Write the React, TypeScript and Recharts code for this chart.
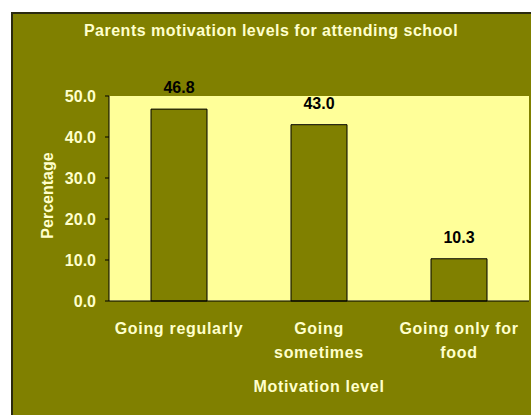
import React from "react";
import { BarChart, Bar, XAxis, YAxis, CartesianGrid, LabelList } from "recharts";

const categories = ["Going regularly", "Going sometimes", "Going only for food"];
const values = [46.8, 43.0, 10.3];
const tickLabelLines = [["Going regularly"], ["Going", "sometimes"], ["Going only for", "food"]];
const yTicks = [0, 10, 20, 30, 40, 50];
const edgeTicks = [0, 1, 2, 3];
const chartTitle = "Parents motivation levels for attending school";
const xTitle = "Motivation level";
const yTitle = "Percentage";

const data = categories.map((name, i) => ({ name, value: values[i] }));

const FONT = "Arial, 'Liberation Sans', sans-serif";
const OLIVE = "#808000";
const PLOT = "#FFFF99";
const TEXT = "#FFFFCC";

const CatTick = (props: any) => {
  const { x, y, payload } = props;
  const idx = categories.indexOf(payload.value);
  const lines = tickLabelLines[idx] || [payload.value];
  return (
    <text
      x={x}
      y={y}
      textAnchor="middle"
      fill={TEXT}
      fontSize={16}
      fontWeight="bold"
      fontFamily={FONT}
      letterSpacing={0.7}
    >
      {lines.map((l: string, i: number) => (
        <tspan key={i} x={x} dy={i === 0 ? 33 : 24}>
          {l}
        </tspan>
      ))}
    </text>
  );
};

const XTitle = (props: any) => {
  const vb = props.viewBox || {};
  const cx = vb.x + vb.width / 2;
  return (
    <text
      x={cx}
      y={vb.y + 91}
      textAnchor="middle"
      fill={TEXT}
      fontSize={16}
      fontWeight="bold"
      fontFamily={FONT}
      letterSpacing={0.7}
    >
      {xTitle}
    </text>
  );
};

const YTitle = (props: any) => {
  const vb = props.viewBox || {};
  const bx = vb.x + 53;
  const cy = vb.y + vb.height / 2 - 3;
  return (
    <text
      x={bx}
      y={cy}
      transform={`rotate(-90, ${bx}, ${cy})`}
      textAnchor="middle"
      fill={TEXT}
      fontSize={16}
      fontWeight="bold"
      fontFamily={FONT}
    >
      {yTitle}
    </text>
  );
};

export default function App() {
  return (
    <div
      style={{
        position: "absolute",
        left: 0,
        top: 0,
        width: 531,
        height: 415,
        background: "#fff",
        overflow: "hidden",
      }}
    >
      <div
        style={{
          position: "absolute",
          left: 11,
          top: 12,
          width: 530,
          height: 410,
          boxSizing: "border-box",
          background: OLIVE,
          borderLeft: "2px solid #2a2a10",
          borderTop: "2px solid #2a2a10",
        }}
      />
      <div
        style={{
          position: "absolute",
          left: 11,
          top: 22,
          width: 520,
          textAlign: "center",
          color: TEXT,
          fontFamily: FONT,
          fontWeight: "bold",
          fontSize: 16,
          lineHeight: "18px",
          letterSpacing: 0.5,
        }}
      >
        {chartTitle}
      </div>
      <div style={{ position: "absolute", left: 0, top: 0 }}>
        <BarChart
          width={531}
          height={415}
          data={data}
          margin={{ top: 96, right: 2, bottom: 0, left: 0 }}
          barCategoryGap="30%"
        >
          <CartesianGrid fill={PLOT} horizontal={false} vertical={false} />
          <XAxis
            xAxisId="edges"
            type="number"
            domain={[0, 3]}
            ticks={edgeTicks}
            height={0}
            axisLine={false}
            tickLine={{ stroke: "#000" }}
            tickSize={5}
            tick={() => <g />}
          />
          <XAxis
            dataKey="name"
            height={114}
            interval={0}
            tickLine={false}
            tickSize={0}
            tickMargin={0}
            axisLine={{ stroke: "#000" }}
            tick={<CatTick />}
            label={<XTitle />}
          />
          <XAxis
            xAxisId="top"
            orientation="top"
            dataKey="name"
            height={0}
            tick={false}
            tickLine={false}
            axisLine={{ stroke: "#808080" }}
          />
          <YAxis
            domain={[0, 50]}
            ticks={yTicks}
            interval={0}
            width={109}
            tickSize={4}
            tickMargin={9}
            axisLine={{ stroke: "#000" }}
            tickLine={{ stroke: "#000" }}
            tick={{ fill: TEXT, fontSize: 16, fontWeight: "bold", fontFamily: FONT }}
            tickFormatter={(v: number) => v.toFixed(1)}
            label={<YTitle />}
          />
          <YAxis
            yAxisId="right"
            orientation="right"
            domain={[0, 50]}
            width={0}
            tick={false}
            tickLine={false}
            axisLine={{ stroke: "#808080" }}
          />
          <Bar
            dataKey="value"
            fill={OLIVE}
            stroke="#000"
            strokeWidth={1}
            isAnimationActive={false}
          >
            <LabelList
              dataKey="value"
              position="top"
              offset={16}
              formatter={(v: any) => Number(v).toFixed(1)}
              fill="#000"
              fontSize={16}
              fontWeight="bold"
              fontFamily={FONT}
            />
          </Bar>
        </BarChart>
      </div>
    </div>
  );
}
